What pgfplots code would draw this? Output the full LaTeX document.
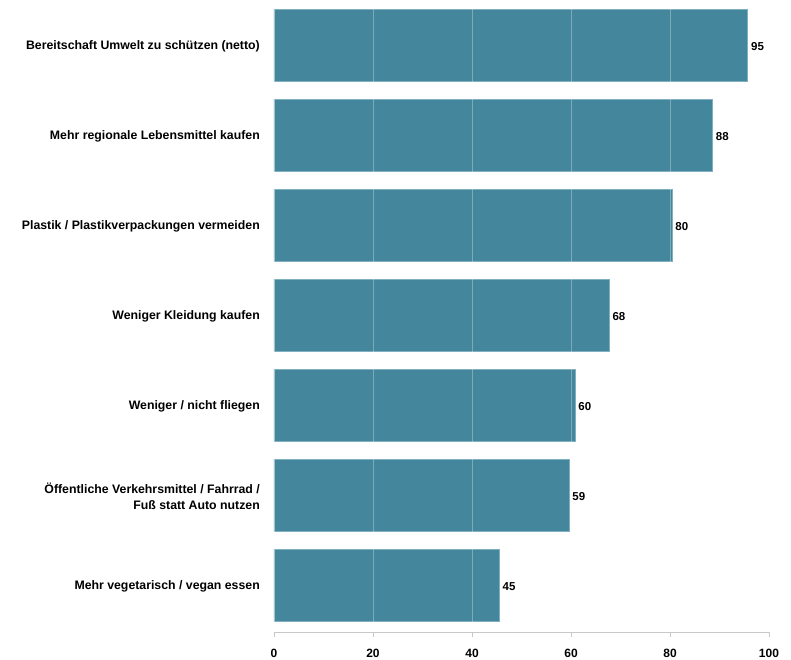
\documentclass[border=0pt]{standalone}
\usepackage{pgfplots}
\pgfplotsset{compat=1.18}
\usepackage{fontspec}
\setmainfont{Liberation Sans}
\definecolor{barfill}{HTML}{44869C}
\definecolor{baredge}{HTML}{7FAFC0}
\definecolor{axgray}{HTML}{C8C8C8}
\begin{document}
\begin{tikzpicture}
\useasboundingbox (-274pt,-27pt) rectangle (517pt,632pt);
\begin{axis}[
  at={(0pt,0pt)}, anchor=south west,
  scale only axis,
  width=495pt, height=630pt,
  xbar, bar width=72pt,
  xmin=0, xmax=100,
  ymin=-0.48, ymax=6.52,
  y dir=reverse,
  ytick={0,1,2,3,4,5,6},
  yticklabels={{Bereitschaft Umwelt zu schützen (netto)},
    {Mehr regionale Lebensmittel kaufen},
    {Plastik / Plastikverpackungen vermeiden},
    {Weniger Kleidung kaufen},
    {Weniger / nicht fliegen},
    {Öffentliche Verkehrsmittel / Fahrrad /\\Fuß statt Auto nutzen},
    {Mehr vegetarisch / vegan essen}},
  yticklabel style={align=right, inner sep=0pt, xshift=-9pt, yshift=-1pt, font=\fontsize{12.3pt}{16pt}\selectfont\bfseries},
  ytick style={draw=none},
  axis x line*=bottom,
  axis y line*=left,
  y axis line style={draw=none},
  x axis line style={draw=axgray, line width=0.8pt},
  xtick={0,20,40,60,80,100},
  xtick pos=bottom,
  tick align=outside,
  major tick length=5pt,
  xtick style={draw=axgray, line width=0.8pt},
  /pgf/number format/assume math mode=true,
  xticklabel style={font=\fontsize{12pt}{14pt}\selectfont\bfseries, inner sep=0pt, yshift=-12pt},
  xmajorgrids,
  major grid style={draw=white, opacity=0.3, line width=0.8pt},
  axis on top,
  nodes near coords,
  point meta=explicit symbolic,
  every node near coord/.style={font=\fontsize{11.5pt}{13pt}\selectfont\bfseries, anchor=west, inner sep=0pt, xshift=3pt, yshift=-1.5pt, black},
  clip=false,
]
\addplot[fill=barfill, draw=baredge, line width=0.8pt] coordinates {
  (95.7,0) [95]
  (88.6,1) [88]
  (80.4,2) [80]
  (67.7,3) [68]
  (60.8,4) [60]
  (59.6,5) [59]
  (45.5,6) [45]
};
\end{axis}
\end{tikzpicture}
\end{document}
